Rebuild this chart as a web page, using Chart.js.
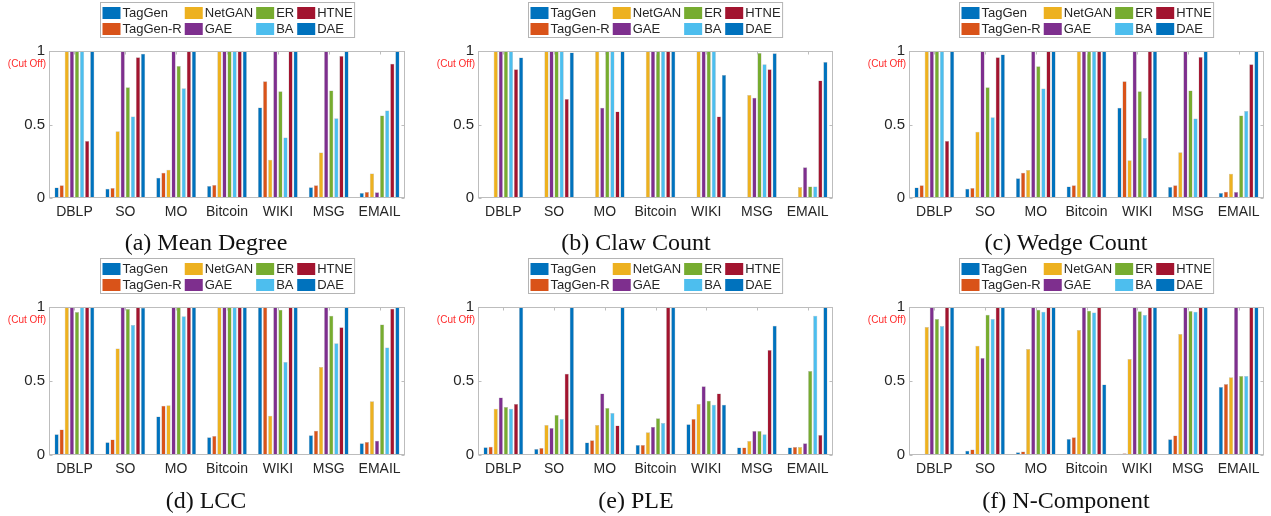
<!DOCTYPE html>
<html>
<head>
<meta charset="utf-8">
<script src="https://cdn.jsdelivr.net/npm/chart.js@4.4.0/dist/chart.umd.min.js"></script>
<style>
body { margin: 0; background: #fff; width: 1271px; height: 516px; position: relative; overflow: hidden; }
canvas { position: absolute; }
.cap { position: absolute; width: 320px; text-align: center; font-family: "Liberation Serif", "DejaVu Serif", serif; font-size: 24px; line-height: 28px; color: #111; }
</style>
</head>
<body>
<script>
var methods = ["TagGen", "TagGen-R", "NetGAN", "GAE", "ER", "BA", "HTNE", "DAE"];
var colors = ["#0072BD", "#D95319", "#EDB120", "#7E2F8E", "#77AC30", "#4DBEEE", "#A2142F", "#0072BD"];
var categories = ["DBLP", "SO", "MO", "Bitcoin", "WIKI", "MSG", "EMAIL"];
var yTicks = [0, 0.5, 1];

// one row per method, one value per dataset (values above 1 are cut off at 1)
var meanDegree = [
    [0.072, 0.063, 0.138, 0.081, 0.616, 0.073, 0.034],
    [0.086, 0.068, 0.172, 0.088, 0.795, 0.086, 0.041],
    [1, 0.454, 0.192, 1, 0.26, 0.31, 0.166],
    [1, 1, 1, 1, 1, 1, 0.039],
    [1, 0.754, 0.898, 1, 0.727, 0.732, 0.562],
    [1, 0.555, 0.747, 1, 0.411, 0.542, 0.596],
    [0.388, 0.957, 1, 1, 1, 0.966, 0.914],
    [1, 0.982, 1, 1, 1, 1, 1]
];
var clawCount = [
    [0.002, 0.004, 0.003, 0.005, 0.003, 0.003, 0.003],
    [0.002, 0.004, 0.003, 0.005, 0.003, 0.003, 0.003],
    [1, 1, 1, 1, 1, 0.70, 0.074],
    [1, 1, 0.614, 1, 1, 0.682, 0.21],
    [1, 1, 1, 1, 1, 0.986, 0.079],
    [1, 1, 1, 1, 1, 0.91, 0.079],
    [0.876, 0.673, 0.589, 1, 0.555, 0.876, 0.80],
    [0.955, 0.99, 1, 1, 0.837, 0.984, 0.926]
];
var wedgeCount = [
    [0.072, 0.063, 0.135, 0.079, 0.614, 0.074, 0.034],
    [0.086, 0.068, 0.172, 0.086, 0.795, 0.086, 0.043],
    [1, 0.451, 0.19, 1, 0.257, 0.312, 0.165],
    [1, 1, 1, 1, 1, 1, 0.041],
    [1, 0.754, 0.896, 1, 0.727, 0.731, 0.562],
    [1, 0.549, 0.745, 1, 0.409, 0.54, 0.591],
    [0.388, 0.957, 1, 1, 1, 0.959, 0.91],
    [1, 0.977, 1, 1, 1, 1, 1]
];
var lcc = [
    [0.14, 0.086, 0.26, 0.12, 1, 0.133, 0.079],
    [0.172, 0.104, 0.332, 0.129, 1, 0.164, 0.088],
    [1, 0.72, 0.336, 1, 0.266, 0.595, 0.363],
    [1, 1, 1, 1, 1, 1, 0.097],
    [0.966, 0.986, 1, 1, 0.982, 0.941, 0.881],
    [1, 0.878, 0.937, 1, 0.628, 0.755, 0.727],
    [1, 1, 1, 1, 1, 0.863, 0.989],
    [1, 0.995, 1, 1, 1, 1, 1]
];
var ple = [
    [0.052, 0.041, 0.084, 0.068, 0.208, 0.05, 0.05],
    [0.056, 0.047, 0.099, 0.068, 0.244, 0.05, 0.054],
    [0.312, 0.203, 0.203, 0.153, 0.345, 0.095, 0.054],
    [0.388, 0.183, 0.415, 0.19, 0.465, 0.163, 0.079],
    [0.325, 0.271, 0.318, 0.248, 0.366, 0.163, 0.567],
    [0.312, 0.244, 0.284, 0.217, 0.339, 0.14, 0.941],
    [0.345, 0.549, 0.199, 1, 0.415, 0.709, 0.135],
    [1, 1, 1, 1, 0.339, 0.874, 1]
];
var nComponent = [
    [0.005, 0.029, 0.018, 0.108, 0.009, 0.106, 0.46],
    [0.007, 0.038, 0.023, 0.12, 0.011, 0.131, 0.479],
    [0.865, 0.738, 0.716, 0.844, 0.648, 0.817, 0.526],
    [1, 0.655, 1, 1, 1, 1, 1],
    [0.919, 0.948, 0.982, 0.975, 0.971, 0.973, 0.533],
    [0.871, 0.919, 0.968, 0.962, 0.946, 0.968, 0.533],
    [1, 1, 1, 1, 1, 1, 1],
    [1, 1, 1, 0.476, 1, 1, 1]
];

var panels = [
    { caption: "(a) Mean Degree", values: meanDegree, col: 0, row: 0 },
    { caption: "(b) Claw Count", values: clawCount, col: 1, row: 0 },
    { caption: "(c) Wedge Count", values: wedgeCount, col: 2, row: 0 },
    { caption: "(d) LCC", values: lcc, col: 0, row: 1 },
    { caption: "(e) PLE", values: ple, col: 1, row: 1 },
    { caption: "(f) N-Component", values: nComponent, col: 2, row: 1 }
];

// page layout
var colLeft = [0, 425, 855];
var colWidth = [425, 430, 416];
var plotLeft = [49, 478, 909];
var plotWidth = [356, 355, 355];
var capCenter = [206, 636, 1066];
var rowTop = [0, 255];
var plotTop = [51, 307];
var plotBottom = [198, 455];
var capMiddle = [242, 500];
var XAXIS_H = 32;
var TEXT = "#262626";
var SANS = "'Liberation Sans', Arial, sans-serif";

// frame, inward ticks, "(Cut Off)" note and the 4-column legend
var panelDecor = {
    id: "panelDecor",
    afterDatasetsDraw: function (chart) {
        var ctx = chart.ctx, a = chart.chartArea;
        var xs = chart.scales.x, ys = chart.scales.y;
        var L = Math.round(a.left) + 0.5, R = Math.round(a.right) - 0.5;
        var T = Math.round(a.top) + 0.5, B = Math.round(a.bottom) - 0.5;
        ctx.save();
        ctx.strokeStyle = "#bdbdbd";
        ctx.lineWidth = 1;
        ctx.strokeRect(L, T, R - L, B - T);
        ctx.beginPath();
        yTicks.forEach(function (v) {
            var py = Math.round(ys.getPixelForValue(v)) + 0.5;
            ctx.moveTo(L, py); ctx.lineTo(L + 3, py);
            ctx.moveTo(R, py); ctx.lineTo(R - 3, py);
        });
        categories.forEach(function (c, i) {
            var px = Math.round(xs.getPixelForValue(i)) + 0.5;
            ctx.moveTo(px, T); ctx.lineTo(px, T + 3);
        });
        ctx.stroke();

        ctx.fillStyle = "#ff2a2a";
        ctx.font = "10px " + SANS;
        ctx.textAlign = "right";
        ctx.textBaseline = "middle";
        ctx.fillText("(Cut Off)", a.left - 3, a.top + 13);

        // legend, column-major like the original
        var ds = chart.data.datasets;
        ctx.font = "13px " + SANS;
        var sw = 18, gap = 2, colGap = 3, pad = 2;
        var widths = [], total = pad * 2 + colGap * 3;
        for (var c = 0; c < 4; c++) {
            var w = Math.max(ctx.measureText(ds[2 * c].label).width, ctx.measureText(ds[2 * c + 1].label).width);
            widths.push(w);
            total += sw + gap + w;
        }
        var lx = Math.round((a.left + a.right) / 2 - total / 2) + 0.5;
        var ly = Math.round(a.top) - 49 + 0.5;
        ctx.fillStyle = "#fff";
        ctx.fillRect(lx, ly, total, 35);
        ctx.strokeStyle = "#b4b4b4";
        ctx.strokeRect(lx, ly, total, 35);
        ctx.textAlign = "left";
        var cx = lx + pad;
        for (var c2 = 0; c2 < 4; c2++) {
            for (var r = 0; r < 2; r++) {
                var d = ds[2 * c2 + r];
                var cy = ly + (r === 0 ? 10.5 : 26.5);
                ctx.fillStyle = d.backgroundColor;
                ctx.fillRect(cx, cy - 6, sw, 12);
                ctx.fillStyle = TEXT;
                ctx.fillText(d.label, cx + sw + gap, cy + 0.5);
            }
            cx += sw + gap + widths[c2] + colGap;
        }
        ctx.restore();
    }
};

panels.forEach(function (p) {
    var col = p.col, row = p.row;
    var canvas = document.createElement("canvas");
    var h = plotBottom[row] - rowTop[row] + XAXIS_H;
    canvas.width = colWidth[col];
    canvas.height = h;
    canvas.style.left = colLeft[col] + "px";
    canvas.style.top = rowTop[row] + "px";
    document.body.appendChild(canvas);

    var cap = document.createElement("div");
    cap.className = "cap";
    cap.textContent = p.caption;
    cap.style.left = (capCenter[col] - 160) + "px";
    cap.style.top = (capMiddle[row] - 14) + "px";
    document.body.appendChild(cap);

    var yWidth = plotLeft[col] - colLeft[col];
    var padRight = colWidth[col] - yWidth - plotWidth[col];

    var datasets = methods.map(function (m, i) {
        return {
            label: m,
            data: p.values[i],
            backgroundColor: colors[i],
            borderColor: "rgba(40,40,40,0.35)",
            borderWidth: 0.5,
            categoryPercentage: 0.8,
            barPercentage: 0.82
        };
    });

    new Chart(canvas.getContext("2d"), {
        type: "bar",
        data: { labels: categories, datasets: datasets },
        plugins: [panelDecor],
        options: {
            responsive: false,
            animation: false,
            devicePixelRatio: 1,
            layout: { padding: { top: plotTop[row] - rowTop[row], right: padRight, bottom: 0, left: 0 } },
            plugins: { legend: { display: false }, tooltip: { enabled: false } },
            scales: {
                x: {
                    grid: { display: false, drawTicks: false },
                    border: { display: false },
                    ticks: { color: TEXT, font: { family: SANS, size: 14 }, padding: 6, maxRotation: 0, autoSkip: false },
                    afterFit: function (s) { s.height = XAXIS_H; }
                },
                y: {
                    min: 0,
                    max: 1,
                    grid: { display: false, drawTicks: false },
                    border: { display: false },
                    afterBuildTicks: function (s) { s.ticks = yTicks.map(function (v) { return { value: v }; }); },
                    ticks: { color: TEXT, font: { family: SANS, size: 15 }, padding: 4, callback: function (v) { return String(v); } },
                    afterFit: function (s) { s.width = yWidth; }
                }
            }
        }
    });
});
</script>
</body>
</html>
